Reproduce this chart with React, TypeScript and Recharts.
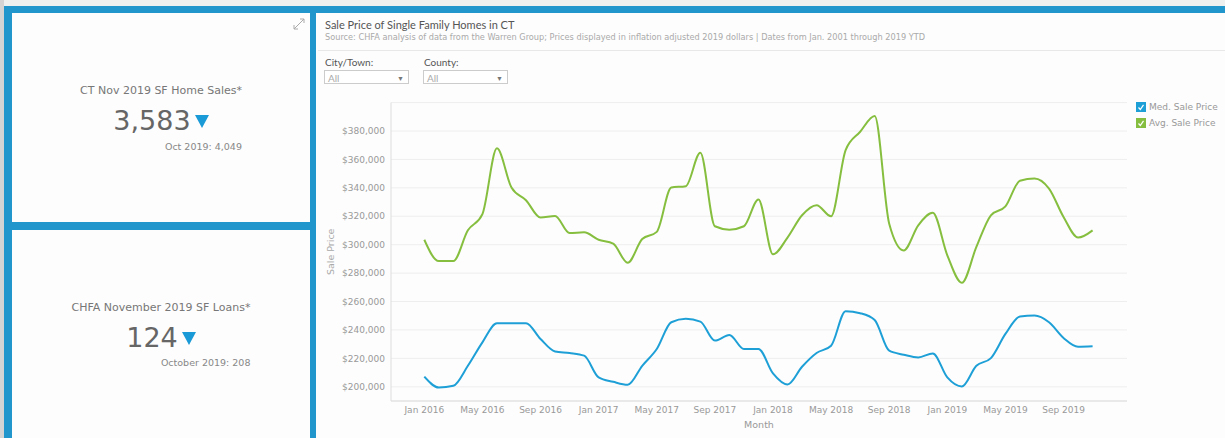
import React from "react";
import { CartesianGrid, Line, LineChart, XAxis, YAxis } from "recharts";

// Jan 2016 .. Nov 2019, monthly
const MONTHS = [
  "Jan 2016", "Feb 2016", "Mar 2016", "Apr 2016", "May 2016", "Jun 2016", "Jul 2016", "Aug 2016", "Sep 2016", "Oct 2016", "Nov 2016", "Dec 2016",
  "Jan 2017", "Feb 2017", "Mar 2017", "Apr 2017", "May 2017", "Jun 2017", "Jul 2017", "Aug 2017", "Sep 2017", "Oct 2017", "Nov 2017", "Dec 2017",
  "Jan 2018", "Feb 2018", "Mar 2018", "Apr 2018", "May 2018", "Jun 2018", "Jul 2018", "Aug 2018", "Sep 2018", "Oct 2018", "Nov 2018", "Dec 2018",
  "Jan 2019", "Feb 2019", "Mar 2019", "Apr 2019", "May 2019", "Jun 2019", "Jul 2019", "Aug 2019", "Sep 2019", "Oct 2019", "Nov 2019",
];

const MED_PRICE = [
  207100, 199500, 200700, 214800, 231300, 244700, 244700, 244700, 233600, 224900, 223800, 221900,
  206600, 203500, 201400, 214800, 226600, 245400, 247800, 245900, 232500, 236500, 226600, 226600,
  209400, 201600, 214100, 223800, 228900, 253200, 251800, 247000, 225400, 222600, 220700, 223500,
  206600, 200200, 214800, 220200, 237200, 249400, 250100, 245400, 234400, 228200, 228500,
];

const AVG_PRICE = [
  303500, 288500, 288500, 310100, 321500, 367800, 340200, 331300, 319100, 320200, 308200, 308700,
  303500, 300700, 287300, 304000, 309000, 340200, 341200, 364700, 313000, 310600, 313000, 331800,
  293200, 305000, 320700, 327800, 320000, 366600, 379500, 390600, 314800, 296000, 313600, 322400,
  292500, 273200, 298400, 320700, 327000, 345000, 346600, 339500, 319500, 305000, 310100,
];

const X_TICKS = ["Jan 2016", "May 2016", "Sep 2016", "Jan 2017", "May 2017", "Sep 2017", "Jan 2018", "May 2018", "Sep 2018", "Jan 2019", "May 2019", "Sep 2019"];
const Y_TICKS = [200000, 220000, 240000, 260000, 280000, 300000, 320000, 340000, 360000, 380000];

const data = MONTHS.map((m, i) => ({ month: m, med: MED_PRICE[i], avg: AVG_PRICE[i] }));

const BLUE = "#1ea0d7";
const GREEN = "#86bf3f";
const FRAME = "#2196cc";
const VERDANA = "'DejaVu Sans', Verdana, sans-serif";
const LATO = "Lato, 'Open Sans', sans-serif";

const fmt = (v: number) => "$" + v.toLocaleString("en-US");

function Triangle() {
  return (
    <svg width={14} height={13} style={{ marginLeft: 4, marginBottom: 2 }}>
      <polygon points="0,0 14,0 7,13" fill="#1a9ad6" />
    </svg>
  );
}

function Kpi({ top, title, value, sub, gap1, gap2 }: { top: number; title: string; value: string; sub: string; gap1: number; gap2: number }) {
  return (
    <div style={{ position: "absolute", left: 0, right: 0, top, textAlign: "center" }}>
      <div style={{ display: "inline-block", fontFamily: VERDANA }}>
        <div style={{ fontSize: 11, lineHeight: "13px", color: "#777" }}>{title}</div>
        <div style={{ fontSize: 27, lineHeight: "32px", color: "#666", marginTop: gap1 }}>
          {value}
          <Triangle />
        </div>
        <div style={{ fontSize: 9.5, lineHeight: "12px", color: "#888", textAlign: "right", marginTop: gap2 }}>{sub}</div>
      </div>
    </div>
  );
}

function Dropdown({ left, label }: { left: number; label: string }) {
  return (
    <>
      <div style={{ position: "absolute", left: left + 1, top: 56, fontFamily: LATO, fontSize: 10, color: "#555" }}>{label}</div>
      <div
        style={{
          position: "absolute",
          left,
          top: 70,
          width: 85,
          height: 14,
          border: "1px solid #ccc",
          background: "#fff",
          fontFamily: LATO,
          fontSize: 10,
          color: "#aaa",
          lineHeight: "14px",
          paddingLeft: 3,
          boxSizing: "border-box",
        }}
      >
        All
        <span style={{ position: "absolute", right: 4, top: 0, fontSize: 7, color: "#777" }}>▼</span>
      </div>
    </>
  );
}

function LegendItem({ top, color, label }: { top: number; color: string; label: string }) {
  return (
    <div style={{ position: "absolute", left: 1136, top, display: "flex", alignItems: "center" }}>
      <svg width={10} height={10}>
        <rect width={10} height={10} fill={color} />
        <polyline points="2.5,5.5 4.3,7.5 7.5,2.8" fill="none" stroke="#fff" strokeWidth={1.2} />
      </svg>
      <span style={{ marginLeft: 3, fontFamily: VERDANA, fontSize: 9, color: "#999" }}>{label}</span>
    </div>
  );
}

export default function App() {
  return (
    <div style={{ position: "absolute", left: 0, top: 0, width: 1225, height: 438, overflow: "hidden", background: FRAME }}>
      <div style={{ position: "absolute", left: 0, top: 0, width: 1225, height: 6, background: "#eef0f0" }} />
      <div style={{ position: "absolute", left: 0, top: 0, width: 4, height: 438, background: "#d4d4d4" }} />

      {/* KPI cards */}
      <div style={{ position: "absolute", left: 12, top: 13, width: 298, height: 209, background: "#fdfdfd" }}>
        <svg width={12} height={12} style={{ position: "absolute", left: 281, top: 5 }}>
          <g stroke="#aaa" strokeWidth={1} fill="none">
            <line x1={1} y1={11} x2={11} y2={1} />
            <polyline points="7,1 11,1 11,5" />
            <polyline points="1,7 1,11 5,11" />
          </g>
        </svg>
        <Kpi top={71} gap1={8} gap2={4} title="CT Nov 2019 SF Home Sales*" value="3,583" sub="Oct 2019: 4,049" />
      </div>
      <div style={{ position: "absolute", left: 12, top: 230, width: 298, height: 220, background: "#fdfdfd" }}>
        <Kpi top={71} gap1={8} gap2={3} title="CHFA November 2019 SF Loans*" value="124" sub="October 2019: 208" />
      </div>

      {/* chart card */}
      <div style={{ position: "absolute", left: 316, top: 13, width: 909, height: 430, background: "#fdfdfd" }} />
      <div style={{ position: "absolute", left: 325, top: 18, fontFamily: LATO, fontSize: 11, color: "#555", whiteSpace: "nowrap" }}>
        Sale Price of Single Family Homes in CT
      </div>
      <div style={{ position: "absolute", left: 325, top: 32, fontFamily: VERDANA, fontSize: 8.2, color: "#aaa", whiteSpace: "nowrap" }}>
        Source: CHFA analysis of data from the Warren Group; Prices displayed in inflation adjusted 2019 dollars | Dates from Jan. 2001 through 2019 YTD
      </div>
      <div style={{ position: "absolute", left: 318, top: 50, width: 907, height: 1, background: "#e8e8e8" }} />
      <Dropdown left={324} label="City/Town:" />
      <Dropdown left={423} label="County:" />

      <LegendItem top={102} color={BLUE} label="Med. Sale Price" />
      <LegendItem top={118} color={GREEN} label="Avg. Sale Price" />

      <div style={{ position: "absolute", left: 316, top: 90 }}>
        <LineChart width={811} height={347} data={data} margin={{ top: 12.6, right: 0, left: 0, bottom: 0 }}>
          <CartesianGrid vertical={false} stroke="#eeeeee" />
          <XAxis
            dataKey="month"
            ticks={X_TICKS}
            interval={0}
            height={36}
            padding={{ left: 33.3, right: 34.4 }}
            tickLine={false}
            tickMargin={0}
            axisLine={{ stroke: "#dddddd" }}
            tick={{ fontSize: 9, fill: "#999", fontFamily: VERDANA }}
            label={{ value: "Month", position: "insideBottom", offset: 9, fontSize: 9.5, fill: "#999", fontFamily: VERDANA }}
          />
          <YAxis
            width={75}
            domain={[190000, 400000]}
            ticks={Y_TICKS}
            tickFormatter={fmt}
            tickLine={false}
            tickMargin={0}
            axisLine={{ stroke: "#dddddd" }}
            tick={{ fontSize: 9, fill: "#999", fontFamily: VERDANA }}
            label={{
              value: "Sale Price",
              angle: -90,
              position: "insideLeft",
              offset: 15,
              style: { textAnchor: "middle" },
              fontSize: 9.5,
              fill: "#aaa",
              fontFamily: VERDANA,
            }}
          />
          <Line type="monotone" dataKey="avg" stroke={GREEN} strokeWidth={2} dot={false} isAnimationActive={false} />
          <Line type="monotone" dataKey="med" stroke={BLUE} strokeWidth={2} dot={false} isAnimationActive={false} />
        </LineChart>
      </div>
    </div>
  );
}
